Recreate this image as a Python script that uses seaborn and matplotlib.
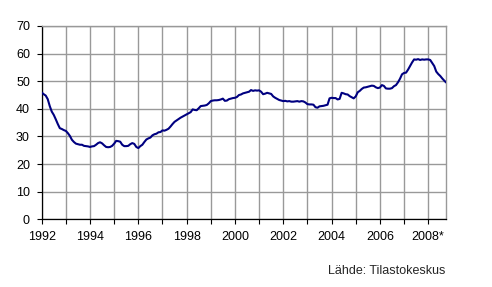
import numpy as np
import pandas as pd
import matplotlib
matplotlib.use("Agg")
import matplotlib.pyplot as plt
import seaborn as sns

# Monthly values, Jan 1992 - Oct 2008
v1992 = [45.9, 45.3, 44.8, 43.5, 41.0, 39.0, 37.8, 36.2, 34.5, 33.0, 32.7, 32.3]
v1993 = [32.0, 31.2, 30.2, 28.8, 28.0, 27.4, 27.2, 27.0, 27.0, 26.6, 26.5, 26.4]
v1994 = [26.2, 26.4, 26.5, 27.0, 27.6, 27.9, 27.5, 26.8, 26.2, 26.1, 26.2, 26.6]
v1995 = [27.4, 28.4, 28.3, 28.1, 27.0, 26.5, 26.5, 26.6, 27.2, 27.6, 27.3, 26.2]
v1996 = [25.8, 26.5, 27.0, 28.0, 28.9, 29.3, 29.6, 30.4, 30.8, 31.0, 31.5, 31.6]
v1997 = [32.2, 32.1, 32.4, 32.8, 33.6, 34.5, 35.3, 35.8, 36.3, 36.8, 37.2, 37.6]
v1998 = [38.0, 38.4, 38.8, 39.8, 39.6, 39.5, 40.2, 41.0, 41.1, 41.2, 41.4, 42.0]
v1999 = [42.8, 43.0, 43.1, 43.1, 43.2, 43.4, 43.7, 42.9, 43.0, 43.5, 43.7, 43.9]
v2000 = [44.0, 44.3, 45.0, 45.2, 45.6, 45.8, 46.0, 46.2, 46.8, 46.5, 46.7, 46.6]
v2001 = [46.7, 46.2, 45.3, 45.5, 45.8, 45.6, 45.4, 44.5, 44.0, 43.6, 43.2, 43.0]
v2002 = [42.8, 42.9, 42.7, 42.8, 42.6, 42.6, 42.7, 42.8, 42.6, 42.8, 42.7, 42.3]
v2003 = [41.7, 41.6, 41.6, 41.5, 40.6, 40.4, 40.9, 41.0, 41.1, 41.3, 41.5, 43.8]
v2004 = [44.0, 43.9, 43.9, 43.4, 43.6, 45.8, 45.6, 45.3, 45.2, 44.6, 44.2, 43.8]
v2005 = [44.5, 46.0, 46.5, 47.2, 47.7, 47.8, 48.0, 48.2, 48.4, 48.3, 47.8, 47.5]
v2006 = [47.7, 48.6, 48.3, 47.4, 47.3, 47.3, 47.5, 48.2, 48.6, 49.6, 50.9, 52.5]
v2007 = [53.0, 53.1, 54.2, 55.5, 56.8, 57.9, 57.8, 58.0, 57.7, 57.9, 57.8, 57.9]
v2008 = [57.9, 57.7, 56.6, 55.5, 53.5, 52.6, 51.9, 51.0, 50.2, 49.5]

values = (v1992 + v1993 + v1994 + v1995 + v1996 + v1997 + v1998 + v1999 +
          v2000 + v2001 + v2002 + v2003 + v2004 + v2005 + v2006 + v2007 + v2008)
start_year = 1992
tick_years = list(range(1992, 2009))
tick_labels = ["1992", "", "1994", "", "1996", "", "1998", "", "2000", "",
               "2002", "", "2004", "", "2006", "", "2008*"]
y_ticks = [0, 10, 20, 30, 40, 50, 60, 70]
source = "Lähde: Tilastokeskus"

months = np.arange(len(values))
df = pd.DataFrame({"t": start_year + months / 12.0, "v": values})

sns.set_style("white")
plt.rcParams["font.family"] = ["Liberation Sans", "DejaVu Sans"]

fig = plt.figure(figsize=(4.92, 2.87), dpi=100)
ax = fig.add_axes([41.7 / 492, 1 - 219.3 / 287, (446.3 - 41.7) / 492, (219.3 - 26) / 287])

sns.lineplot(data=df, x="t", y="v", ax=ax, color="#000080", linewidth=1.5, zorder=3)

ax.set_xlim(start_year, df["t"].iloc[-1])
ax.set_ylim(0, 70)
ax.set_xticks(tick_years)
ax.set_xticklabels(tick_labels)
ax.set_yticks(y_ticks)
ax.grid(True, color="#999999", linewidth=1.0)
ax.set_axisbelow(True)
ax.set_xlabel("")
ax.set_ylabel("")
ax.tick_params(axis="both", which="both", direction="out", length=3.5, width=0.8,
               color="black", labelsize=9, labelcolor="black",
               bottom=True, left=True)
ax.tick_params(axis="x", pad=5)
ax.tick_params(axis="y", pad=5)
for s in ["left", "bottom"]:
    ax.spines[s].set_color("black")
    ax.spines[s].set_linewidth(0.9)
for s in ["top", "right"]:
    ax.spines[s].set_color("#999999")
    ax.spines[s].set_linewidth(1.0)

fig.text(445 / 492, 1 - 271 / 287, source, ha="right", va="center", fontsize=9)

fig.savefig("out.png", dpi=100)
